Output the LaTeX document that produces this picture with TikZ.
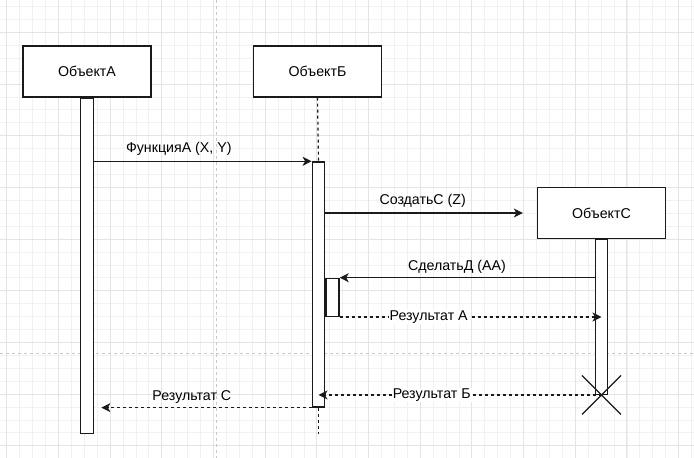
\documentclass[tikz,border=0pt]{standalone}
\usepackage{fontspec}
\setmainfont{Liberation Sans}
\usetikzlibrary{arrows.meta}

\definecolor{gridminor}{HTML}{F1F1F1}
\definecolor{gridmajor}{HTML}{E4E4E4}
\definecolor{pagebreak}{HTML}{C8C8C8}
\definecolor{ink}{HTML}{1A1A1A}

\tikzset{
  objbox/.style={draw=ink, line width=1.3pt, fill=white, minimum width=128pt, minimum height=51pt, inner sep=0pt},
  bar/.style={draw=ink, line width=1.3pt, fill=white, minimum width=12.5pt, inner sep=0pt},
  call/.style={draw=ink, line width=1.2pt, -{Stealth[length=9pt,width=9pt,inset=2.5pt]}},
  reply/.style={call, dash pattern=on 3pt off 3pt},
  lifeline/.style={draw=ink, line width=1.2pt, dash pattern=on 3pt off 3pt},
  lbl/.style={fill=white, inner sep=1pt}
}

\begin{document}
\begin{tikzpicture}[x=1pt,y=-1pt,font=\fontsize{14.2}{16}\selectfont]
            \useasboundingbox (0,0) rectangle (694,458);
            \fill[white] (0,0) rectangle (694,458);

            % Draw the grid
            \foreach \i in {0,...,53} {
                \draw[gridminor, line width=0.7pt] ({6.7+12.92*\i},0) -- ({6.7+12.92*\i},458);
            }
            \foreach \j in {0,...,35} {
                \draw[gridminor, line width=0.7pt] (0,{6.46+12.92*\j}) -- (694,{6.46+12.92*\j});
            }
            \foreach \i in {0,...,13} {
                \draw[gridmajor, line width=0.9pt] ({6.7+51.68*\i},0) -- ({6.7+51.68*\i},458);
            }
            \foreach \j in {0,...,8} {
                \draw[gridmajor, line width=0.9pt] (0,{32.3+51.68*\j}) -- (694,{32.3+51.68*\j});
            }
            % page breaks
            \draw[pagebreak, dash pattern=on 3pt off 3pt, line width=0.7pt] (216,0) -- (216,458);
            \draw[pagebreak, dash pattern=on 3pt off 3pt, line width=0.7pt] (0,353.3) -- (694,353.3);

            % Draw the objects
            \node[objbox] (objA) at (87,71.5) {ОбъектА};
            \node[objbox] (objB) at (317.5,71.5) {ОбъектБ};
            \node[objbox] (objC) at (601.5,213) {ОбъектС};

            % activation bars
            \node[bar, minimum height=335pt, anchor=north] (barA) at (objA.south) {};
            \node[bar, minimum height=245pt, anchor=north] (barB) at (318.5,161.3) {};
            \node[bar, minimum height=154.5pt, anchor=north] (barC) at (objC.south) {};
            \node[bar, minimum width=13pt, minimum height=38pt, anchor=north west] (barS) at (barB.east |- 0,277.7) {};

            % lifeline of ObjectB
            \coordinate (endB) at (barB.south |- barA.south);
            \draw[lifeline] (objB.south) -- (barB.north);
            \draw[lifeline] (barB.south) -- (endB);

            % Draw the calls
            \draw[call] (barA.east |- barB.north) -- (barB.north west)
                node[pos=0.39, above=2pt] {ФункцияA (X, Y)};
            \draw[call, shorten >=14pt] (barB.east |- objC.west) -- (objC.west)
                node[pos=0.46, above=2pt] {СоздатьC (Z)};
            \draw[call] (barC.west |- barS.north) -- (barS.north east)
                node[pos=0.54, above=0pt] {СделатьД (AA)};

            % Draw the replies
            \draw[reply] (barS.south east) -- (barC.center |- barS.south)
                node[pos=0.34, lbl] {Результат А};
            \draw[reply] (barC.south) -- (barB.center |- barC.south)
                node[pos=0.6, lbl] {Результат Б};
            \draw[reply, shorten >=7.5pt] (barB.south west) -- (barA.east |- barB.south)
                node[pos=0.55, above=0pt] {Результат C};

            % destroy ObjectC
            \draw[ink, line width=1.2pt] ([shift={(-19.5,-19.5)}]barC.south) -- ([shift={(19.5,19.5)}]barC.south);
            \draw[ink, line width=1.2pt] ([shift={(-19.5,19.5)}]barC.south) -- ([shift={(19.5,-19.5)}]barC.south);
        \end{tikzpicture}
\end{document}
